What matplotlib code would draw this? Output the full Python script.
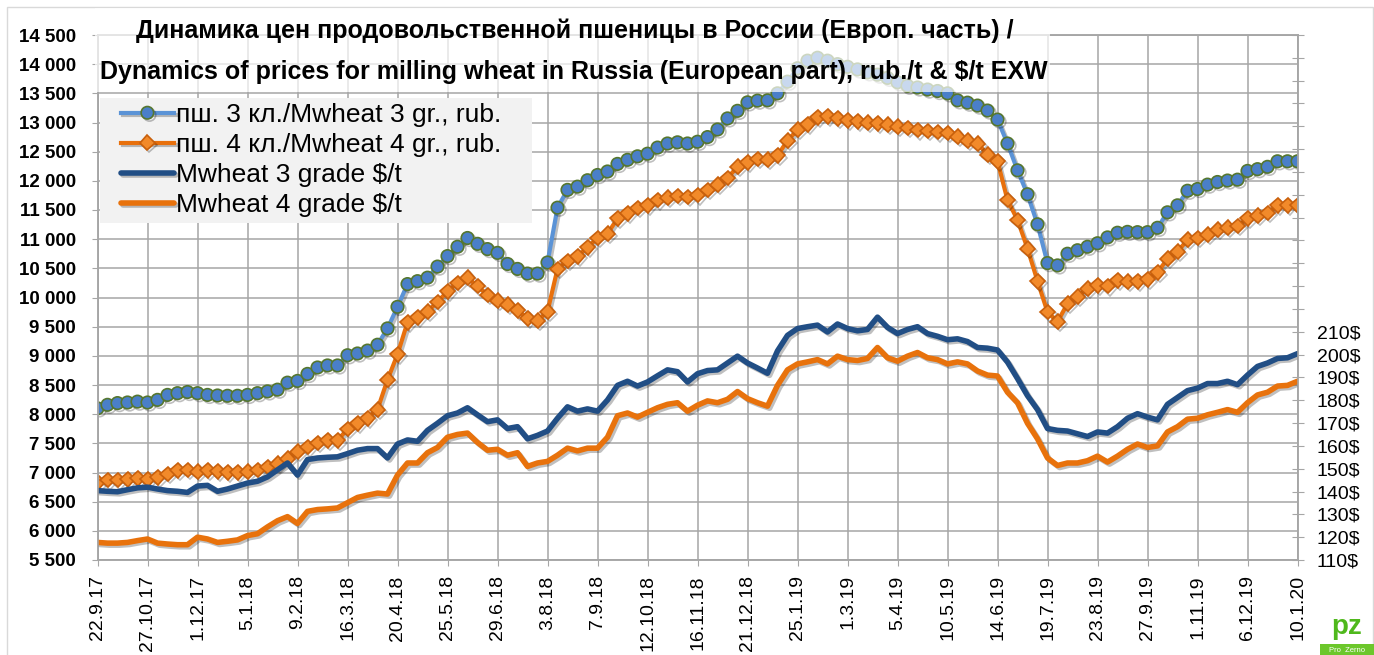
import matplotlib

matplotlib.use("Agg")
import matplotlib.patheffects as pe
import matplotlib.pyplot as plt
import pandas as pd
from matplotlib.patches import Rectangle
from matplotlib.ticker import FuncFormatter, MultipleLocator

plt.rcParams["font.family"] = ["Liberation Sans", "DejaVu Sans"]

# Weekly observations, 22.9.2017 .. 10.1.2020
DATES = pd.date_range("2017-09-22", periods=121, freq="7D")

TICK_LABELS = [
    "22.9.17", "27.10.17", "1.12.17", "5.1.18", "9.2.18", "16.3.18",
    "20.4.18", "25.5.18", "29.6.18", "3.8.18", "7.9.18", "12.10.18",
    "16.11.18", "21.12.18", "25.1.19", "1.3.19", "5.4.19", "10.5.19",
    "14.6.19", "19.7.19", "23.8.19", "27.9.19", "1.11.19", "6.12.19",
    "10.1.20",
]

LABELS = [
    "пш. 3 кл./Mwheat 3 gr., rub.",
    "пш. 4 кл./Mwheat 4 gr., rub.",
    "Mwheat 3 grade $/t",
    "Mwheat 4 grade $/t",
]

# rub./t, 3rd grade
RUB_3 = [
    8100, 8160, 8190, 8200, 8215, 8200, 8245, 8330, 8360, 8380,
    8360, 8330, 8320, 8315, 8315, 8330, 8360, 8390, 8420, 8540,
    8570, 8690, 8800, 8835, 8835, 9010, 9040, 9090, 9190, 9470,
    9840, 10230, 10280, 10340, 10530, 10710, 10870, 11020, 10920, 10830,
    10765, 10575, 10490, 10410, 10410, 10600, 11540, 11845, 11900, 12010,
    12100, 12160, 12290, 12360, 12420, 12465, 12570, 12640, 12660, 12640,
    12670, 12750, 12880, 13070, 13200, 13345, 13375, 13380, 13500, 13700,
    13930, 14060, 14110, 14060, 14000, 13955, 13910, 13860, 13820, 13765,
    13690, 13630, 13600, 13565, 13540, 13500, 13380, 13340, 13290, 13205,
    13050, 12640, 12180, 11770, 11255, 10590, 10550, 10750, 10810, 10870,
    10930, 11030, 11110, 11125, 11120, 11120, 11195, 11460, 11580, 11830,
    11860, 11935, 11980, 12005, 12020, 12170, 12200, 12240, 12335, 12335,
    12335,
]

# rub./t, 4th grade
RUB_4 = [
    6830, 6870, 6870, 6885, 6900, 6885, 6915, 6975, 7035, 7045,
    7015, 7035, 7020, 7005, 7005, 7015, 7045, 7095, 7150, 7240,
    7360, 7435, 7505, 7550, 7550, 7745, 7845, 7930, 8080, 8590,
    9025, 9575, 9660, 9760, 9925, 10105, 10250, 10340, 10195, 10045,
    9945, 9880, 9780, 9645, 9600, 9760, 10490, 10625, 10705, 10860,
    11020, 11095, 11355, 11445, 11535, 11580, 11670, 11710, 11740, 11725,
    11755, 11845, 11935, 12050, 12240, 12320, 12375, 12360, 12435, 12690,
    12875, 12970, 13090, 13105, 13070, 13040, 13020, 13000, 12985, 12965,
    12930, 12905, 12870, 12855, 12835, 12820, 12760, 12690, 12640, 12450,
    12335, 11670, 11330, 10840, 10280, 9750, 9585, 9895, 10015, 10150,
    10210, 10195, 10295, 10270, 10280, 10310, 10430, 10665, 10785, 10990,
    11020, 11080, 11165, 11195, 11225, 11355, 11405, 11450, 11580, 11580,
    11580,
]

# $/t, 3rd grade
USD_3 = [
    140.4, 140.1, 139.9, 140.8, 141.6, 141.9, 141.1, 140.4, 140.1, 139.6,
    142.4, 142.7, 140.1, 141.1, 142.4, 143.7, 144.5, 146.4, 149.5, 152.5,
    147.2, 154.0, 154.7, 155.0, 155.2, 156.6, 158.1, 158.8, 158.8, 154.7,
    160.8, 162.6, 162.0, 166.8, 169.9, 173.2, 174.4, 176.7, 173.6, 170.6,
    171.4, 167.6, 168.4, 163.1, 164.6, 166.5, 172.1, 177.1, 175.2, 176.2,
    175.2, 180.1, 186.5, 188.3, 186.2, 188.0, 190.7, 193.3, 192.5, 188.0,
    191.6, 193.0, 193.3, 196.3, 199.3, 196.3, 194.1, 191.8, 201.6, 208.4,
    211.4, 212.2, 212.9, 209.9, 213.4, 211.4, 210.4, 211.0, 216.4, 211.9,
    209.2, 211.0, 212.2, 209.2, 208.0, 206.5, 206.9, 205.7, 203.1, 202.8,
    202.0, 196.7, 189.5, 182.0, 175.9, 167.6, 166.8, 166.5, 165.3, 164.1,
    166.1, 165.6, 168.4, 172.1, 174.1, 172.6, 171.4, 178.2, 181.2, 184.2,
    185.3, 187.3, 187.3, 188.3, 186.8, 191.0, 194.8, 196.3, 198.3, 198.6,
    200.4,
]

# $/t, 4th grade
USD_4 = [
    117.7, 117.4, 117.4, 117.7, 118.5, 119.2, 117.4, 117.0, 116.7, 116.7,
    120.0, 119.2, 117.7, 118.2, 118.8, 120.7, 121.5, 124.5, 127.2, 129.0,
    126.0, 131.3, 132.1, 132.4, 132.8, 135.1, 137.4, 138.4, 139.3, 138.9,
    147.2, 152.5, 152.5, 157.0, 159.3, 163.8, 165.0, 165.6, 161.5, 158.1,
    158.5, 155.9, 157.0, 151.0, 152.5, 153.2, 155.9, 159.0, 157.8, 159.0,
    159.0, 163.8, 173.2, 174.4, 172.6, 174.7, 176.7, 178.2, 178.9, 175.2,
    177.8, 179.7, 178.9, 180.4, 183.8, 180.7, 178.9, 177.4, 186.5, 193.3,
    195.9, 196.8, 197.8, 195.9, 199.3, 197.8, 197.4, 198.3, 203.1, 198.6,
    197.1, 199.3, 200.9, 198.6, 197.8, 195.9, 196.8, 195.9, 192.8, 191.0,
    190.6, 183.5, 178.9, 169.9, 163.1, 154.7, 151.4, 152.5, 152.5, 153.5,
    155.5, 152.9, 155.5, 158.5, 160.8, 159.3, 160.0, 166.1, 168.4, 171.7,
    172.1, 173.6, 174.7, 175.9, 174.7, 178.9, 182.3, 183.5, 186.2, 186.5,
    188.3,
]

W, H = 1374, 655
GRID = "#a6a6a6"
SHADOW = [pe.SimpleLineShadow(offset=(1.5, -1.5), alpha=0.25), pe.Normal()]


def fx(px):
    return px / W


def fy(py):
    return 1 - py / H


fig = plt.figure(figsize=(W / 100, H / 100), dpi=100)

# outer chart frame
fig.add_artist(Rectangle((fx(7), fy(660)), fx(1366), 653 / H, transform=fig.transFigure,
                         facecolor="none", edgecolor="#d9d9d9", lw=1, zorder=0))

ax = fig.add_axes([fx(97.5), fy(560), fx(1200), 525 / H])
ax2 = ax.twinx()

# rub series on the left axis
ax.plot(DATES, RUB_3, color="#5b93d6", lw=3, marker="o", ms=9,
        mfc="#4a7fc8", mec="#56772f", mew=1.2, path_effects=SHADOW)
ax.plot(DATES, RUB_4, color="#e8700c", lw=3, marker="D", ms=7.5,
        mfc="#f28a2a", mec="#c9600c", mew=1.2, path_effects=SHADOW)

# $ series on the right axis
ax2.plot(DATES, USD_3, color="#214e85", lw=4, solid_capstyle="round",
         solid_joinstyle="round", path_effects=SHADOW)
ax2.plot(DATES, USD_4, color="#e8720c", lw=4, solid_capstyle="round",
         solid_joinstyle="round", path_effects=SHADOW)

ax.set_xlim(DATES[0], DATES[-1])
ax.set_ylim(5500, 14500)
ax2.set_ylim(110, 340)

ax.set_xticks(DATES[::5])
ax.set_xticklabels(TICK_LABELS, rotation=90, va="top")
ax.yaxis.set_major_locator(MultipleLocator(500))
ax.yaxis.set_major_formatter(FuncFormatter(lambda v, _: f"{int(v):,}".replace(",", " ")))
ax2.yaxis.set_major_locator(MultipleLocator(10))
ax2.yaxis.set_major_formatter(FuncFormatter(lambda v, _: f"{int(round(v))}$" if v <= 210.5 else ""))

ax.grid(True, color=GRID, lw=1.1)
ax.set_axisbelow(True)
for a in (ax, ax2):
    for s in a.spines.values():
        s.set_color(GRID)
        s.set_linewidth(1.1)

ax.tick_params(axis="y", direction="out", length=4.5, color=GRID, pad=11, labelsize=13.5)
for lab in ax.get_yticklabels():
    lab.set_fontweight("bold")
ax.tick_params(axis="x", direction="out", length=4, color=GRID, pad=7, labelsize=14)
ax2.tick_params(axis="y", direction="inout", length=8, color=GRID, pad=10, labelsize=14)

# title on a semi-transparent white box, over the plot area
fig.add_artist(Rectangle((fx(95), fy(92)), fx(955), 84 / H, transform=fig.transFigure,
                         facecolor=(1, 1, 1, 0.7), edgecolor="none", zorder=5))
fig.text(fx(575), fy(31), "Динамика цен продовольственной пшеницы в России (Европ. часть) /",
         ha="center", va="center", fontsize=18, fontweight="bold", zorder=6)
fig.text(fx(574), fy(72), "Dynamics of prices for milling wheat in Russia (European part), rub./t & $/t EXW",
         ha="center", va="center", fontsize=18, fontweight="bold", zorder=6)

# legend on its own light grey panel
fig.add_artist(Rectangle((fx(100), fy(223)), fx(432), 125 / H, transform=fig.transFigure,
                         facecolor="#f2f2f2", edgecolor="none", zorder=5.5))
handles = ax.get_lines() + ax2.get_lines()
leg = fig.legend(handles, LABELS, loc="upper left", bbox_to_anchor=(fx(121), fy(103)),
                 bbox_transform=fig.transFigure, fontsize=19, frameon=False,
                 handlelength=2.0, handletextpad=0.1, labelspacing=0.23,
                 borderpad=0, borderaxespad=0)
leg.set_zorder(6)

# Pro Zerno logo
fig.text(fx(1347), fy(627), "pz", ha="center", va="center", fontsize=20,
         fontweight="bold", color="#4fb81c")
fig.add_artist(Rectangle((fx(1320), fy(655)), fx(54), 11 / H, transform=fig.transFigure,
                         facecolor="#6cc72b", edgecolor="none"))
fig.text(fx(1347), fy(650), "Pro  Zerno", ha="center", va="center", fontsize=5.5, color="white")

fig.savefig("out.png", dpi=100)
